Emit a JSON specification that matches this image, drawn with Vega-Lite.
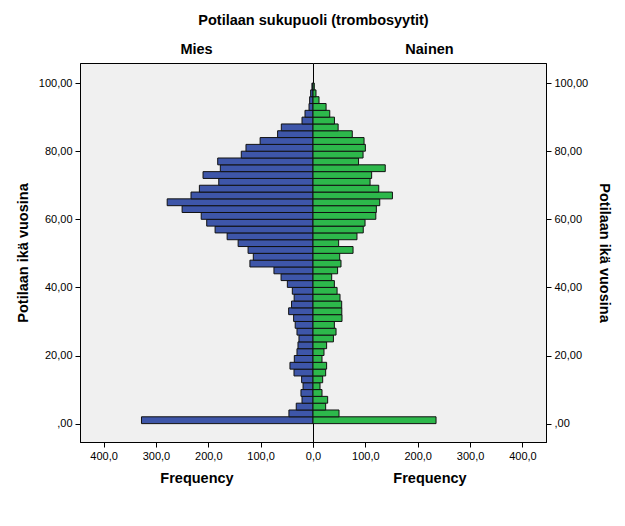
{
  "$schema": "https://vega.github.io/schema/vega-lite/v6.json",
  "padding": {"left": 14, "top": 12, "right": 5, "bottom": 5},
  "background": "white",
  "bounds": "flush",
  "title": {"text": "Potilaan sukupuoli (trombosyytit)", "anchor": "middle", "fontSize": 14.5, "font": "Liberation Sans", "fontWeight": "bold", "color": "black", "offset": 13},
  "spacing": 0,
  "config": {
    "font": "Liberation Sans",
    "view": {"stroke": "black", "strokeWidth": 1, "fill": "#F0F0F0"},
    "axis": {"grid": false, "domainColor": "black", "tickColor": "black", "tickSize": 5, "labelColor": "black", "labelFontSize": 11, "labelFont": "Liberation Sans", "titleFont": "Liberation Sans", "titleFontSize": 14.5, "titleFontWeight": "bold", "titleColor": "black", "labelPadding": 3, "labelFlush": false},
    "title": {"fontSize": 14.5, "fontWeight": "bold", "color": "black", "font": "Liberation Sans", "offset": 6}
  },
  "datasets": {
    "pyr": [
      {"sex": "Mies", "lo": 0, "hi": 2, "n": 327.6}, {"sex": "Nainen", "lo": 0, "hi": 2, "n": 235},
      {"sex": "Mies", "lo": 2, "hi": 4, "n": 46}, {"sex": "Nainen", "lo": 2, "hi": 4, "n": 49.7},
      {"sex": "Mies", "lo": 4, "hi": 6, "n": 32}, {"sex": "Nainen", "lo": 4, "hi": 6, "n": 24.2},
      {"sex": "Mies", "lo": 6, "hi": 8, "n": 21}, {"sex": "Nainen", "lo": 6, "hi": 8, "n": 28},
      {"sex": "Mies", "lo": 8, "hi": 10, "n": 23}, {"sex": "Nainen", "lo": 8, "hi": 10, "n": 17.2},
      {"sex": "Mies", "lo": 10, "hi": 12, "n": 19}, {"sex": "Nainen", "lo": 10, "hi": 12, "n": 13.4},
      {"sex": "Mies", "lo": 12, "hi": 14, "n": 21.7}, {"sex": "Nainen", "lo": 12, "hi": 14, "n": 18.5},
      {"sex": "Mies", "lo": 14, "hi": 16, "n": 36.3}, {"sex": "Nainen", "lo": 14, "hi": 16, "n": 24.2},
      {"sex": "Mies", "lo": 16, "hi": 18, "n": 44}, {"sex": "Nainen", "lo": 16, "hi": 18, "n": 26},
      {"sex": "Mies", "lo": 18, "hi": 20, "n": 35.7}, {"sex": "Nainen", "lo": 18, "hi": 20, "n": 17.2},
      {"sex": "Mies", "lo": 20, "hi": 22, "n": 30.6}, {"sex": "Nainen", "lo": 20, "hi": 22, "n": 21},
      {"sex": "Mies", "lo": 22, "hi": 24, "n": 28.7}, {"sex": "Nainen", "lo": 22, "hi": 24, "n": 26},
      {"sex": "Mies", "lo": 24, "hi": 26, "n": 26.8}, {"sex": "Nainen", "lo": 24, "hi": 26, "n": 39},
      {"sex": "Mies", "lo": 26, "hi": 28, "n": 30.6}, {"sex": "Nainen", "lo": 26, "hi": 28, "n": 44},
      {"sex": "Mies", "lo": 28, "hi": 30, "n": 34}, {"sex": "Nainen", "lo": 28, "hi": 30, "n": 40.8},
      {"sex": "Mies", "lo": 30, "hi": 32, "n": 37}, {"sex": "Nainen", "lo": 30, "hi": 32, "n": 55.4},
      {"sex": "Mies", "lo": 32, "hi": 34, "n": 46.5}, {"sex": "Nainen", "lo": 32, "hi": 34, "n": 55},
      {"sex": "Mies", "lo": 34, "hi": 36, "n": 41}, {"sex": "Nainen", "lo": 34, "hi": 36, "n": 54.8},
      {"sex": "Mies", "lo": 36, "hi": 38, "n": 36}, {"sex": "Nainen", "lo": 36, "hi": 38, "n": 51.6},
      {"sex": "Mies", "lo": 38, "hi": 40, "n": 39.5}, {"sex": "Nainen", "lo": 38, "hi": 40, "n": 46},
      {"sex": "Mies", "lo": 40, "hi": 42, "n": 49}, {"sex": "Nainen", "lo": 40, "hi": 42, "n": 40.8},
      {"sex": "Mies", "lo": 42, "hi": 44, "n": 61}, {"sex": "Nainen", "lo": 42, "hi": 44, "n": 35.7},
      {"sex": "Mies", "lo": 44, "hi": 46, "n": 74.6}, {"sex": "Nainen", "lo": 44, "hi": 46, "n": 47},
      {"sex": "Mies", "lo": 46, "hi": 48, "n": 120.5}, {"sex": "Nainen", "lo": 46, "hi": 48, "n": 53.5},
      {"sex": "Mies", "lo": 48, "hi": 50, "n": 114}, {"sex": "Nainen", "lo": 48, "hi": 50, "n": 51},
      {"sex": "Mies", "lo": 50, "hi": 52, "n": 124}, {"sex": "Nainen", "lo": 50, "hi": 52, "n": 76.5},
      {"sex": "Mies", "lo": 52, "hi": 54, "n": 143}, {"sex": "Nainen", "lo": 52, "hi": 54, "n": 49},
      {"sex": "Mies", "lo": 54, "hi": 56, "n": 164}, {"sex": "Nainen", "lo": 54, "hi": 56, "n": 84},
      {"sex": "Mies", "lo": 56, "hi": 58, "n": 187}, {"sex": "Nainen", "lo": 56, "hi": 58, "n": 96},
      {"sex": "Mies", "lo": 58, "hi": 60, "n": 203}, {"sex": "Nainen", "lo": 58, "hi": 60, "n": 99.4},
      {"sex": "Mies", "lo": 60, "hi": 62, "n": 213.5}, {"sex": "Nainen", "lo": 60, "hi": 62, "n": 120},
      {"sex": "Mies", "lo": 62, "hi": 64, "n": 250}, {"sex": "Nainen", "lo": 62, "hi": 64, "n": 121},
      {"sex": "Mies", "lo": 64, "hi": 66, "n": 278.5}, {"sex": "Nainen", "lo": 64, "hi": 66, "n": 127.5},
      {"sex": "Mies", "lo": 66, "hi": 68, "n": 233}, {"sex": "Nainen", "lo": 66, "hi": 68, "n": 151.7},
      {"sex": "Mies", "lo": 68, "hi": 70, "n": 217}, {"sex": "Nainen", "lo": 68, "hi": 70, "n": 125.6},
      {"sex": "Mies", "lo": 70, "hi": 72, "n": 180}, {"sex": "Nainen", "lo": 70, "hi": 72, "n": 109},
      {"sex": "Mies", "lo": 72, "hi": 74, "n": 210}, {"sex": "Nainen", "lo": 72, "hi": 74, "n": 112},
      {"sex": "Mies", "lo": 74, "hi": 76, "n": 177}, {"sex": "Nainen", "lo": 74, "hi": 76, "n": 138},
      {"sex": "Mies", "lo": 76, "hi": 78, "n": 182}, {"sex": "Nainen", "lo": 76, "hi": 78, "n": 87},
      {"sex": "Mies", "lo": 78, "hi": 80, "n": 137}, {"sex": "Nainen", "lo": 78, "hi": 80, "n": 95.6},
      {"sex": "Mies", "lo": 80, "hi": 82, "n": 128}, {"sex": "Nainen", "lo": 80, "hi": 82, "n": 100},
      {"sex": "Mies", "lo": 82, "hi": 84, "n": 101}, {"sex": "Nainen", "lo": 82, "hi": 84, "n": 97.5},
      {"sex": "Mies", "lo": 84, "hi": 86, "n": 67.6}, {"sex": "Nainen", "lo": 84, "hi": 86, "n": 75},
      {"sex": "Mies", "lo": 86, "hi": 88, "n": 60.5}, {"sex": "Nainen", "lo": 86, "hi": 88, "n": 48},
      {"sex": "Mies", "lo": 88, "hi": 90, "n": 21}, {"sex": "Nainen", "lo": 88, "hi": 90, "n": 41},
      {"sex": "Mies", "lo": 90, "hi": 92, "n": 15.3}, {"sex": "Nainen", "lo": 90, "hi": 92, "n": 32},
      {"sex": "Mies", "lo": 92, "hi": 94, "n": 7.6}, {"sex": "Nainen", "lo": 92, "hi": 94, "n": 25},
      {"sex": "Mies", "lo": 94, "hi": 96, "n": 6.4}, {"sex": "Nainen", "lo": 94, "hi": 96, "n": 11.5},
      {"sex": "Mies", "lo": 96, "hi": 98, "n": 4.5}, {"sex": "Nainen", "lo": 96, "hi": 98, "n": 5.7},
      {"sex": "Mies", "lo": 98, "hi": 100, "n": 2}, {"sex": "Nainen", "lo": 98, "hi": 100, "n": 2.5}
    ]
  },
  "hconcat": [
    {
      "width": 233,
      "height": 379,
      "title": {"text": "Mies"},
      "data": {"name": "pyr"},
      "transform": [{"filter": "datum.sex === 'Mies'"}],
      "mark": {"type": "rect", "fill": "#3E56A9", "stroke": "#111111", "strokeWidth": 1},
      "encoding": {
        "x": {"field": "n", "type": "quantitative", "scale": {"domain": [0, 445], "reverse": true, "nice": false, "zero": true}, "axis": {"values": [0, 100, 200, 300, 400], "title": "Frequency", "titlePadding": 10, "labelExpr": "replace(format(datum.value, '.1f'), '.', ',')"}},
        "x2": {"datum": 0},
        "y": {"field": "lo", "type": "quantitative", "scale": {"domain": [-5.4, 105.9], "nice": false, "zero": false}, "axis": {"orient": "left", "values": [0, 20, 40, 60, 80, 100], "title": "Potilaan ikä vuosina", "titlePadding": 8, "labelExpr": "datum.value === 0 ? ',00' : replace(format(datum.value, '.2f'), '.', ',')"}},
        "y2": {"field": "hi"}
      }
    },
    {
      "width": 233,
      "height": 379,
      "title": {"text": "Nainen"},
      "data": {"name": "pyr"},
      "transform": [{"filter": "datum.sex === 'Nainen'"}],
      "mark": {"type": "rect", "fill": "#2DB84B", "stroke": "#111111", "strokeWidth": 1},
      "encoding": {
        "x": {"field": "n", "type": "quantitative", "scale": {"domain": [0, 445], "nice": false, "zero": true}, "axis": {"values": [0, 100, 200, 300, 400], "title": "Frequency", "titlePadding": 10, "labelExpr": "datum.value === 0 ? '' : replace(format(datum.value, '.1f'), '.', ',')"}},
        "x2": {"datum": 0},
        "y": {"field": "lo", "type": "quantitative", "scale": {"domain": [-5.4, 105.9], "nice": false, "zero": false}, "axis": {"orient": "right", "values": [0, 20, 40, 60, 80, 100], "title": "Potilaan ikä vuosina", "titlePadding": 9, "labelExpr": "datum.value === 0 ? ',00' : replace(format(datum.value, '.2f'), '.', ',')"}},
        "y2": {"field": "hi"}
      }
    }
  ]
}
